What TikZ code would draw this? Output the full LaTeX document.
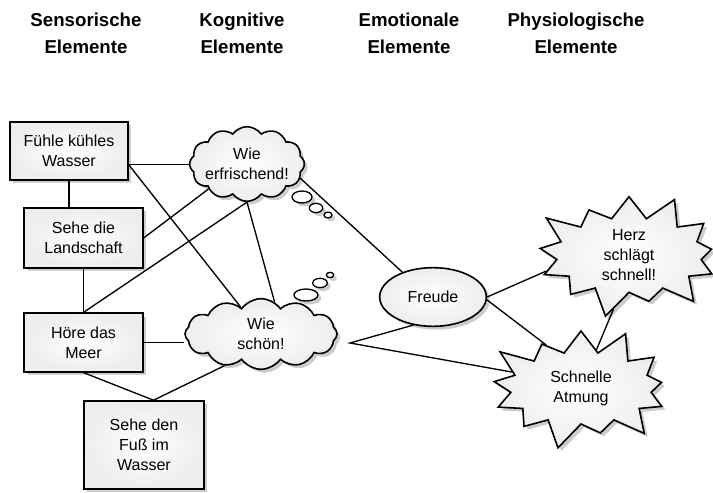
\documentclass[tikz,border=0pt]{standalone}
\usepackage{fontspec}
\setmainfont{Liberation Sans}
\usetikzlibrary{shapes.geometric}
\usetikzlibrary{shapes.symbols}
\usetikzlibrary{shadows}

\begin{document}
\begin{tikzpicture}[x=0.75pt, y=-0.75pt,
	every node/.style={font=\fontsize{12}{15}\selectfont, align=center},
	schatten/.style={drop shadow={shadow xshift=2.5pt, shadow yshift=-2.5pt, opacity=0.4}},
	kopf/.style={font=\fontsize{14}{20}\selectfont\bfseries},
	kasten/.style={rectangle, draw, line width=1.2pt, inner color=white, outer color=black!7, schatten},
	wolke/.style={cloud, cloud puffs=12, cloud puff arc=110, draw, line width=1.2pt, inner sep=-7pt, inner color=white, outer color=black!7, schatten},
	blase/.style={ellipse, draw, line width=1pt, inner sep=0pt, fill=white, schatten},
	stern/.style={starburst, starburst points=13, starburst point height=22pt, draw, line width=1.2pt, inner sep=0pt, inner color=white, outer color=black!7, schatten},
	kante/.style={line width=1pt}]
	\useasboundingbox (0,0) rectangle (713,492);
	% Headings
	\node[kopf] (hsens) at (86,33) {Sensorische\\Elemente};
	\node[kopf] (hkog) at (242,33) {Kognitive\\Elemente};
	\node[kopf] (hemo) at (409,33) {Emotionale\\Elemente};
	\node[kopf] (hphys) at (576,33) {Physiologische\\Elemente};
	% Nodes
	\node[kasten, minimum width=88.5pt, minimum height=43.5pt] (fuehle) at (69,151) {Fühle kühles\\Wasser};
	\node[kasten, minimum width=89pt, minimum height=45pt] (landschaft) at (83.5,238) {Sehe die\\Landschaft};
	\node[kasten, minimum width=89pt, minimum height=44pt] (meer) at (83.5,342.5) {Höre das\\Meer};
	\node[kasten, minimum width=90pt, minimum height=66pt] (fuss) at (144,445) {Sehe den\\Fuß im\\Wasser};
	\node[wolke, aspect=1.5, minimum width=86pt, minimum height=56pt] (erfr) at (247,164) {Wie\\erfrischend!};
	\node[wolke, aspect=2, minimum width=114pt, minimum height=53pt] (schoen) at (261,334) {Wie\\schön!};
	\node[blase, minimum width=15pt, minimum height=9pt] (e1) at (302,197) {};
	\node[blase, minimum width=10pt, minimum height=7pt] (e2) at (316,208) {};
	\node[blase, minimum width=6pt, minimum height=4.5pt] (e3) at (328,215) {};
	\node[blase, minimum width=18pt, minimum height=9pt] (s1) at (306,295) {};
	\node[blase, minimum width=11pt, minimum height=7pt] (s2) at (320,283) {};
	\node[blase, minimum width=5.5pt, minimum height=4pt] (s3) at (330,275) {};
	\node[ellipse, draw, line width=1.2pt, inner color=white, outer color=black!7, schatten, minimum width=80pt, minimum height=44pt] (freude) at (433,297) {Freude};
	\node[stern, minimum width=153pt, minimum height=100pt] (herz) at (629,255) {Herz\\schlägt\\schnell!};
	\node[stern, minimum width=150pt, minimum height=98pt] (atmung) at (581,388) {Schnelle\\Atmung};
	\coordinate (knick) at (350,343);
	% Edges
	\draw[kante] (fuehle.-13) -- (fuehle.-13 -| erfr.west);
	\draw[kante] (fuehle.-13) -- (schoen.127);
	\draw[kante] (fuehle.south) -- (fuehle.south |- landschaft.north);
	\draw[kante] (landschaft.east) -- (erfr.213);
	\draw[kante] (landschaft.south) -- (meer.north);
	\draw[kante] (meer.north) -- (erfr.south) -- (schoen.67);
	\draw[kante] (meer.east) -- (meer.east -| schoen.west);
	\draw[kante] (meer.south) -- (fuss.78) -- (schoen.221);
	\draw[kante] (erfr.-15) -- (freude.141);
	\draw[kante] (freude.235) -- (knick) -- (atmung.167);
	\draw[kante] (freude.east) -- (herz.191);
	\draw[kante] (freude.-3) -- (atmung.129);
	\draw[kante] (herz.254) -- (atmung.68);
\end{tikzpicture}
\end{document}
